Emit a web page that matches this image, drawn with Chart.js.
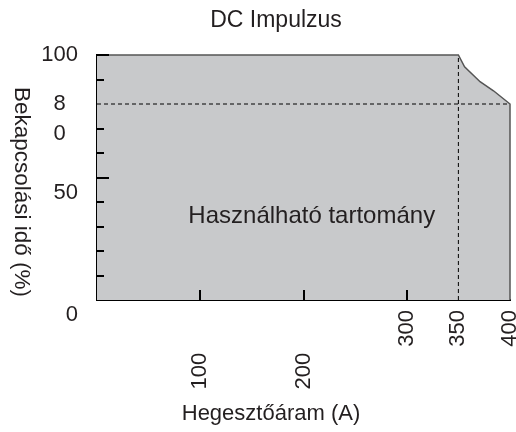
<!DOCTYPE html>
<html>
<head>
<meta charset="utf-8">
<script src="https://cdn.jsdelivr.net/npm/chart.js@4"></script>
<style>
  html, body { margin: 0; padding: 0; background: #fff; }
  #wrap { width: 516px; height: 432px; }
</style>
</head>
<body>
<div id="wrap"><canvas id="chart" width="516" height="432"></canvas></div>
<script>
// 使用范围曲线 (电流 A / 负载持续率 %)
const areaX = [0, 350, 356, 371, 384, 400, 400];
const areaY = [100, 100, 95.2, 89.1, 85.4, 80, 0];

// 虚线参考线
const refLevel = 80;
const refCurrent = 350;

// 坐标轴刻度
const xTickValues = [100, 200, 300, 350, 400];
const yTickValues = [0, 50, 80, 100];
const yMinorTicks = [10, 20, 30, 40, 60, 70, 90];
const yMajorTicks = [50, 100];
const xMarkTicks = [100, 200, 300];

// 文本
const chartTitle = 'DC Impulzus';
const xTitle = 'Hegesztőáram (A)';
const yTitle = 'Bekapcsolási idő (%)';
const areaLabel = 'Használható tartomány';
const areaLabelPos = { x: 208, y: 34 };

const FONT = '"Liberation Sans", Arial, sans-serif';
const TEXT = '#231f20';

// 刻度线和文字
const decorPlugin = {
  id: 'decor',
  afterDatasetsDraw(chart) {
    const { ctx, chartArea, scales } = chart;
    const xs = scales.x, ys = scales.y;
    ctx.save();
    ctx.strokeStyle = '#000';
    ctx.lineWidth = 2;
    ctx.beginPath();
    yMinorTicks.forEach(v => {
      const py = Math.round(ys.getPixelForValue(v));
      ctx.moveTo(chartArea.left, py);
      ctx.lineTo(chartArea.left + 7, py);
    });
    yMajorTicks.forEach(v => {
      const py = Math.round(ys.getPixelForValue(v));
      ctx.moveTo(chartArea.left, py);
      ctx.lineTo(chartArea.left + 12, py);
    });
    xMarkTicks.forEach(v => {
      const px = Math.round(xs.getPixelForValue(v));
      ctx.moveTo(px, chartArea.bottom);
      ctx.lineTo(px, chartArea.bottom - 10);
    });
    ctx.stroke();

    ctx.fillStyle = TEXT;
    ctx.textAlign = 'center';
    ctx.textBaseline = 'middle';
    ctx.font = '24px ' + FONT;
    ctx.fillText(areaLabel, xs.getPixelForValue(areaLabelPos.x), ys.getPixelForValue(areaLabelPos.y));
    ctx.restore();
  },
  afterDraw(chart) {
    const { ctx } = chart;
    ctx.save();
    ctx.fillStyle = TEXT;
    ctx.textAlign = 'center';
    ctx.textBaseline = 'middle';
    ctx.font = '23px ' + FONT;
    ctx.fillText(chartTitle, 276, 21);
    ctx.font = '22px ' + FONT;
    ctx.fillText(xTitle, 271, 414);
    ctx.font = '22.5px ' + FONT;
    ctx.translate(21, 192);
    ctx.rotate(Math.PI / 2);
    ctx.fillText(yTitle, 0, 0);
    ctx.restore();
  }
};

new Chart(document.getElementById('chart'), {
  type: 'scatter',
  data: {
    datasets: [
      {
        data: [{ x: 0, y: refLevel }, { x: 400, y: refLevel }],
        showLine: true,
        borderColor: '#000',
        borderWidth: 1,
        borderDash: [4, 3],
        pointRadius: 0,
        clip: false
      },
      {
        data: [{ x: refCurrent, y: 0 }, { x: refCurrent, y: 100 }],
        showLine: true,
        borderColor: '#000',
        borderWidth: 1,
        borderDash: [4, 3],
        pointRadius: 0,
        clip: false
      },
      {
        data: areaX.map((x, i) => ({ x, y: areaY[i] })),
        showLine: true,
        fill: 'origin',
        backgroundColor: '#c8c9cb',
        borderColor: '#555555',
        borderWidth: 1.5,
        pointRadius: 0,
        tension: 0,
        clip: false
      }
    ]
  },
  options: {
    responsive: false,
    animation: false,
    devicePixelRatio: 1,
    layout: { padding: { top: 55, right: 6, left: 0, bottom: 0 } },
    plugins: {
      legend: { display: false },
      tooltip: { enabled: false }
    },
    scales: {
      x: {
        type: 'linear',
        min: 0,
        max: 400,
        z: 1,
        afterBuildTicks(scale) {
          scale.ticks = xTickValues.map(v => ({ value: v }));
        },
        afterFit(scale) {
          scale.height = 132;
          scale.paddingLeft = 0;
          scale.paddingRight = 0;
        },
        grid: { display: false, drawTicks: false },
        border: { display: true, color: '#000', width: 2 },
        ticks: {
          autoSkip: false,
          minRotation: 90,
          maxRotation: 90,
          padding: 10,
          color: TEXT,
          font: { family: FONT, size: 22 },
          // 100 和 200 的标签位置更低
          callback: v => (v <= 200 ? String(v) + '       ' : String(v))
        }
      },
      y: {
        type: 'linear',
        min: 0,
        max: 100,
        z: 1,
        afterBuildTicks(scale) {
          scale.ticks = yTickValues.map(v => ({ value: v }));
        },
        afterFit(scale) {
          scale.width = 97;
          scale.paddingTop = 0;
          scale.paddingBottom = 0;
        },
        grid: { display: false, drawTicks: false },
        border: { display: true, color: '#000', width: 2 },
        ticks: {
          autoSkip: false,
          padding: 19,
          color: TEXT,
          font: { family: FONT, size: 22, lineHeight: 30 / 22 },
          callback: v => {
            if (v === 80) return ['', '8  ', '0  '];
            if (v === 100) return '100';
            return ['', String(v)];
          }
        }
      }
    }
  },
  plugins: [decorPlugin]
});
</script>
</body>
</html>
